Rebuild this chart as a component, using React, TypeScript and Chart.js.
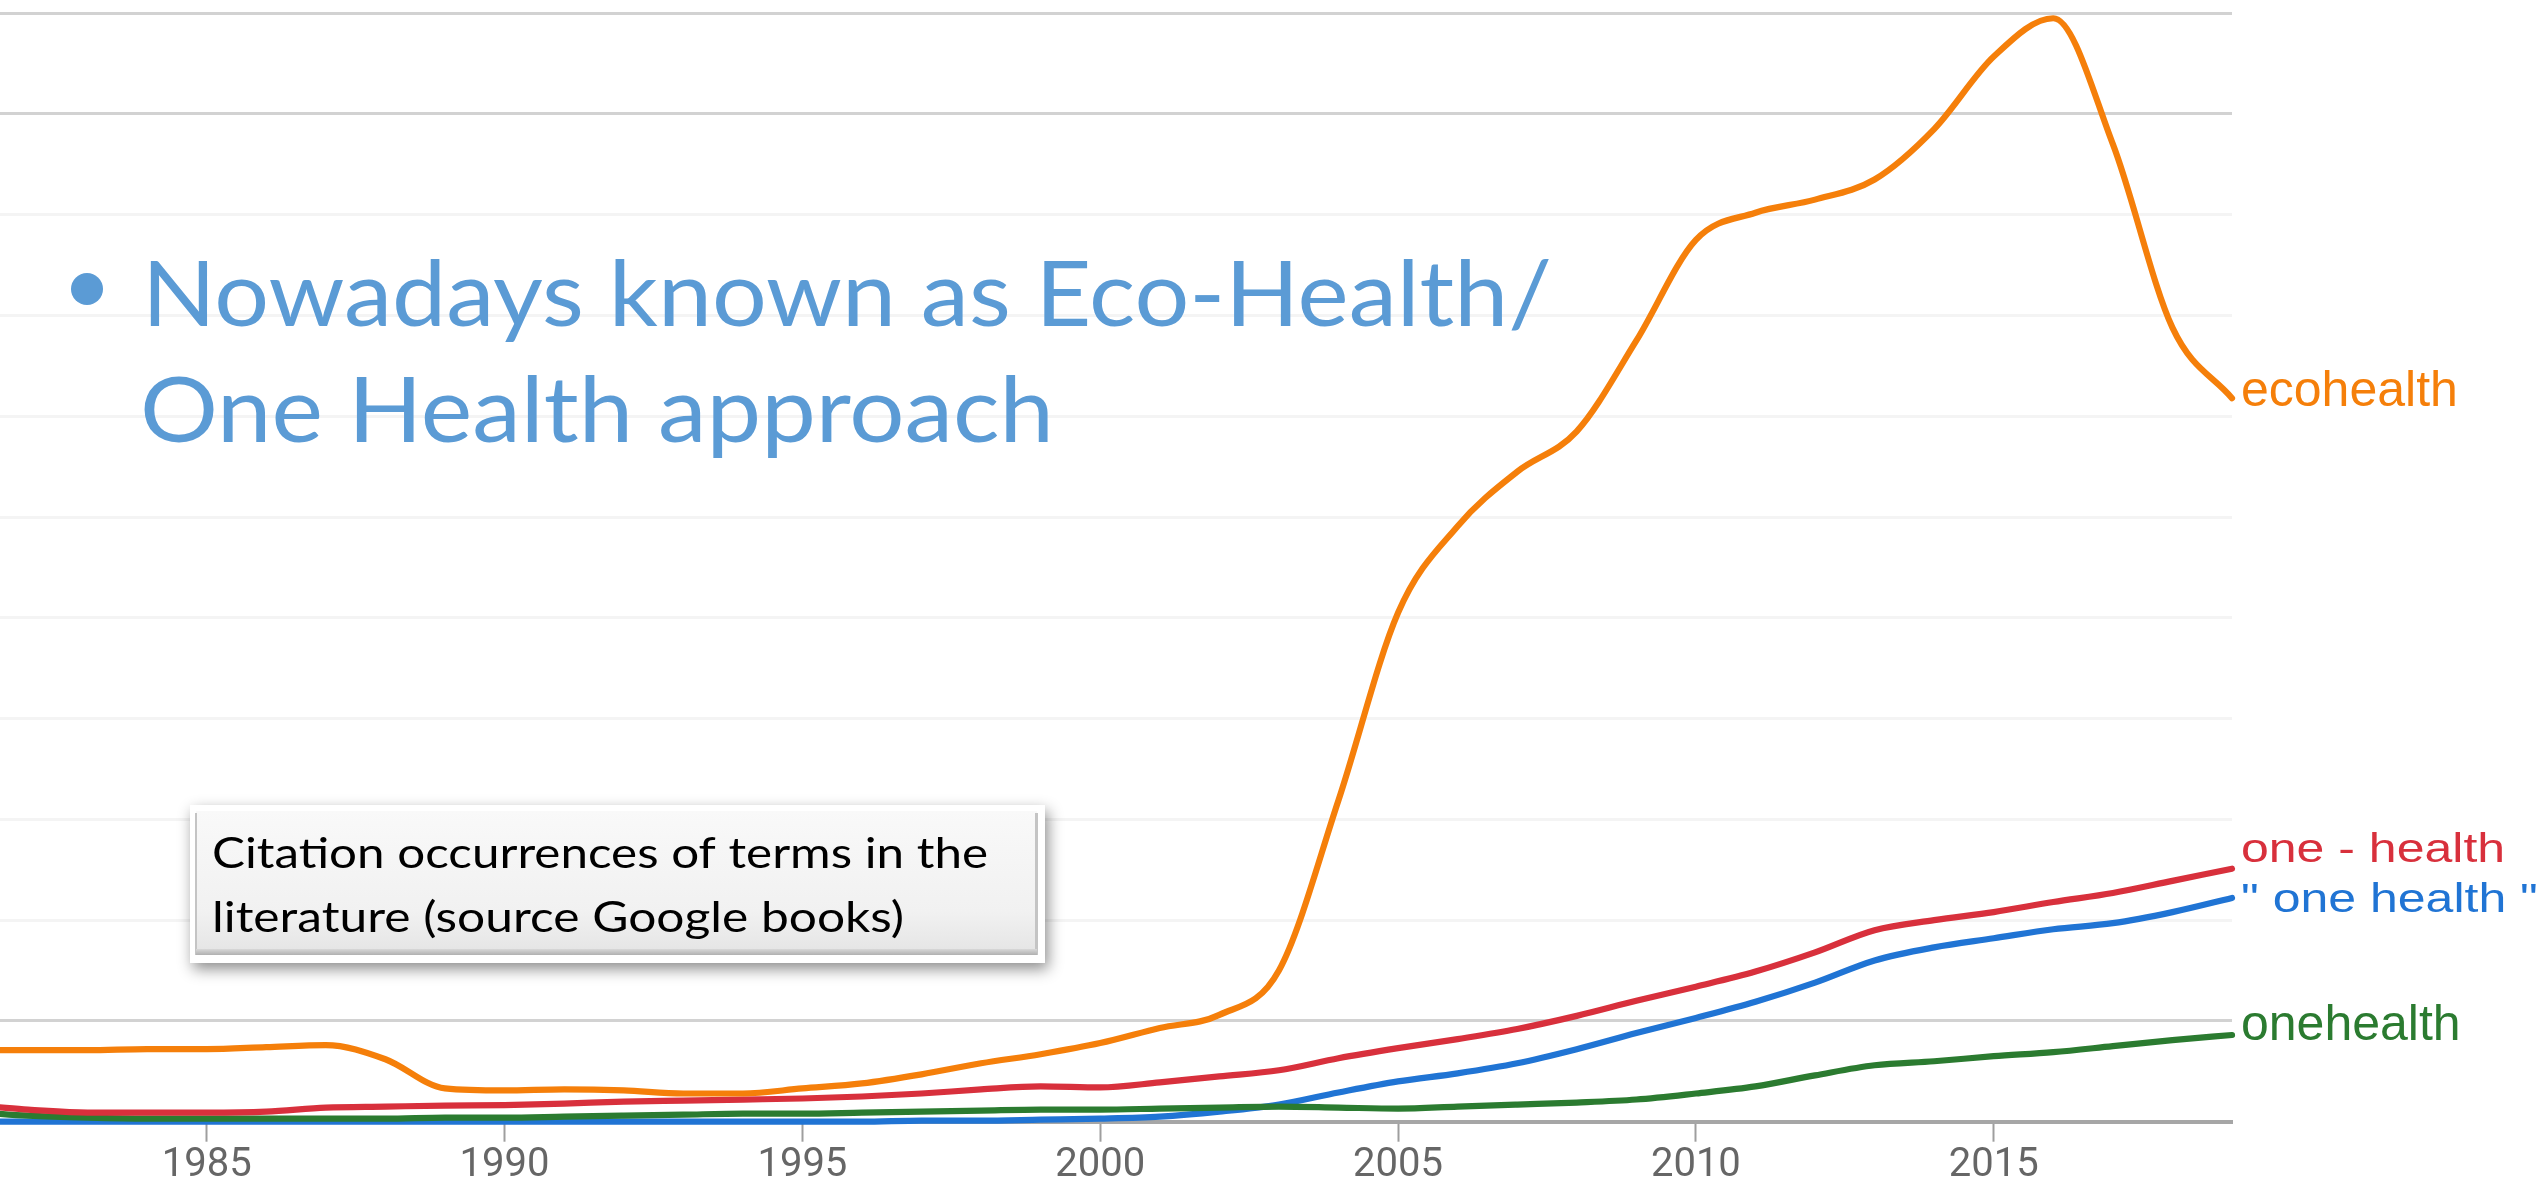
import React, { useEffect, useRef } from "react";
import { Chart, registerables } from "chart.js";

Chart.register(...registerables);

// Publication years (one point per year).
const years = [
  1980, 1981, 1982, 1983, 1984, 1985, 1986, 1987, 1988, 1989,
  1990, 1991, 1992, 1993, 1994, 1995, 1996, 1997, 1998, 1999,
  2000, 2001, 2002, 2003, 2004, 2005, 2006, 2007, 2008, 2009,
  2010, 2011, 2012, 2013, 2014, 2015, 2016, 2017, 2018, 2019,
];

// Relative frequency of each term (arbitrary units, one grid step = 1).
const ecohealth = [
  0.7, 0.71, 0.71, 0.71, 0.72, 0.72, 0.74, 0.76, 0.62, 0.33,
  0.31, 0.32, 0.31, 0.28, 0.28, 0.33, 0.38, 0.47, 0.58, 0.67,
  0.78, 0.93, 1.06, 1.5, 3.19, 5.05, 5.91, 6.45, 6.85, 7.75,
  8.75, 9.02, 9.15, 9.35, 9.85, 10.57, 10.95, 9.7, 7.88, 7.18,
];
const oneDashHealth = [
  0.16, 0.16, 0.12, 0.09, 0.09, 0.09, 0.1, 0.14, 0.15, 0.16,
  0.165, 0.18, 0.2, 0.21, 0.22, 0.23, 0.25, 0.28, 0.32, 0.35,
  0.34, 0.39, 0.45, 0.51, 0.63, 0.73, 0.82, 0.92, 1.05, 1.2,
  1.34, 1.49, 1.68, 1.9, 2.0, 2.08, 2.18, 2.27, 2.39, 2.51,
];
const quotedOneHealth = [
  0, 0, 0, 0, 0, 0, 0, 0, 0, 0,
  0, 0, 0, 0, 0, 0, 0, 0.01, 0.01, 0.02,
  0.03, 0.05, 0.1, 0.17, 0.29, 0.4, 0.48, 0.58, 0.72, 0.88,
  1.03, 1.19, 1.38, 1.6, 1.73, 1.82, 1.91, 1.97, 2.08, 2.22,
];
const onehealth = [
  0.12, 0.1, 0.06, 0.04, 0.03, 0.03, 0.03, 0.03, 0.03, 0.04,
  0.04, 0.05, 0.06, 0.07, 0.08, 0.08, 0.09, 0.1, 0.11, 0.12,
  0.12, 0.13, 0.14, 0.15, 0.14, 0.13, 0.15, 0.17, 0.19, 0.22,
  0.28, 0.35, 0.46, 0.56, 0.6, 0.65, 0.69, 0.75, 0.81, 0.86,
];

const seriesNames = ["ecohealth", "one - health", "\" one health \"", "onehealth"];
const xTickYears = [1985, 1990, 1995, 2000, 2005, 2010, 2015];
const yGridSteps = [0, 1, 2, 3, 4, 5, 6, 7, 8, 9, 10, 11];

const bulletLines = ["Nowadays known as Eco-Health/", "One Health approach"];
const noteLines = ["Citation occurrences of terms in the", "literature (source Google books)"];

const W = 2542;
const H = 1186;

const seriesStyles = [
  { color: "#f57f0a", order: 0, labelDy: 8, squeeze: 1 },
  { color: "#d8303c", order: 1, labelDy: -7, squeeze: 0.8 },
  { color: "#2074d4", order: 3, labelDy: 14, squeeze: 0.8 },
  { color: "#2b7b30", order: 2, labelDy: 5, squeeze: 1 },
];

function fitText(
  ctx: CanvasRenderingContext2D,
  text: string,
  x: number,
  baseline: number,
  width: number
) {
  const m = ctx.measureText(text).width;
  ctx.save();
  ctx.translate(x, baseline);
  ctx.scale(width / m, 1);
  ctx.fillText(text, 0, 0);
  ctx.restore();
}

// Labels drawn just right of each line's last point.
const endLabels = {
  id: "endLabels",
  afterDatasetsDraw(chart: any) {
    const ctx: CanvasRenderingContext2D = chart.ctx;
    ctx.save();
    ctx.font = '50px "Liberation Sans", Arial, sans-serif';
    ctx.textAlign = "left";
    ctx.textBaseline = "alphabetic";
    chart.data.datasets.forEach((ds: any, i: number) => {
      const meta = chart.getDatasetMeta(i);
      const pt = meta.data[meta.data.length - 1];
      const st = seriesStyles[i];
      ctx.fillStyle = st.color;
      ctx.save();
      ctx.translate(pt.x + 9, pt.y + st.labelDy);
      ctx.scale(1, st.squeeze);
      ctx.fillText(ds.label, 0, 0);
      ctx.restore();
    });
    ctx.restore();
  },
};

// Slide text laid over the chart: bullet point and caption box.
const slideText = {
  id: "slideText",
  afterDraw(chart: any) {
    const ctx: CanvasRenderingContext2D = chart.ctx;
    ctx.save();

    // bullet
    ctx.fillStyle = "#5b9bd5";
    ctx.beginPath();
    ctx.arc(87, 289, 16, 0, Math.PI * 2);
    ctx.fill();
    ctx.font = '92px Lato, "Open Sans", sans-serif';
    ctx.textBaseline = "alphabetic";
    fitText(ctx, bulletLines[0], 142, 326, 1410);
    fitText(ctx, bulletLines[1], 140, 442, 914);

    // caption box
    const bx = 190, by = 805, bw = 855, bh = 158;
    ctx.save();
    ctx.shadowColor = "rgba(0,0,0,0.45)";
    ctx.shadowBlur = 14;
    ctx.shadowOffsetX = 3;
    ctx.shadowOffsetY = 6;
    ctx.fillStyle = "#ffffff";
    ctx.fillRect(bx, by, bw, bh);
    ctx.restore();

    const g = ctx.createLinearGradient(0, by + 6, 0, by + bh - 8);
    g.addColorStop(0, "#f9f9f9");
    g.addColorStop(0.7, "#f1f1f1");
    g.addColorStop(1, "#e4e4e4");
    ctx.fillStyle = g;
    ctx.fillRect(bx + 6, by + 6, bw - 14, bh - 14);
    // bevel edges
    ctx.fillStyle = "#c4c4c4";
    ctx.fillRect(bx + 5, by + 8, 2, bh - 16);
    ctx.fillRect(bx + bw - 10, by + 8, 3, bh - 16);
    const gb = ctx.createLinearGradient(0, by + bh - 14, 0, by + bh - 7);
    gb.addColorStop(0, "#d8d8d8");
    gb.addColorStop(1, "#a9a9a9");
    ctx.fillStyle = gb;
    ctx.fillRect(bx + 6, by + bh - 14, bw - 14, 6);

    ctx.fillStyle = "#000000";
    ctx.font = '42px Lato, "Open Sans", sans-serif';
    fitText(ctx, noteLines[0], 212, 868, 776);
    fitText(ctx, noteLines[1], 212, 932, 692);

    ctx.restore();
  },
};

export default function App() {
  const canvasRef = useRef<HTMLCanvasElement | null>(null);

  useEffect(() => {
    document.body.style.margin = "0";
    document.body.style.overflow = "hidden";
    const canvas = canvasRef.current;
    if (!canvas) return;

    const series = [ecohealth, oneDashHealth, quotedOneHealth, onehealth];

    const chart = new Chart(canvas, {
      type: "line",
      data: {
        datasets: series.map((vals, i) => ({
          label: seriesNames[i],
          data: years.map((yr, j) => ({ x: yr, y: vals[j] })),
          borderColor: seriesStyles[i].color,
          backgroundColor: seriesStyles[i].color,
          borderWidth: 6.2,
          pointRadius: 0,
          pointHoverRadius: 0,
          cubicInterpolationMode: "monotone" as const,
          borderCapStyle: "round" as const,
          borderJoinStyle: "round" as const,
          fill: false,
          clip: false as any,
          order: seriesStyles[i].order,
        })),
      },
      options: {
        animation: false,
        responsive: false,
        devicePixelRatio: 1,
        events: [],
        layout: { padding: { left: 0, top: 13.2, right: 310, bottom: 0 } },
        plugins: {
          legend: { display: false },
          tooltip: { enabled: false },
          title: { display: false },
        },
        scales: {
          x: {
            type: "linear",
            min: 1981.53,
            max: 2019,
            afterBuildTicks: (scale: any) => {
              scale.ticks = xTickYears.map((value) => ({ value }));
            },
            afterFit: (scale: any) => {
              scale.height = 64.3;
            },
            ticks: {
              autoSkip: false,
              maxRotation: 0,
              padding: 0,
              color: "#666666",
              font: { family: "Roboto", size: 40 },
              callback: (v: any) => String(v),
            },
            grid: {
              drawOnChartArea: false,
              drawTicks: true,
              tickLength: 20,
              tickColor: "#9e9e9e",
              tickWidth: 2,
            },
            border: { display: true, color: "#a6a6a6", width: 4 },
          },
          y: {
            type: "linear",
            min: 0,
            max: 11,
            afterBuildTicks: (scale: any) => {
              scale.ticks = yGridSteps.map((value) => ({ value }));
            },
            afterFit: (scale: any) => {
              scale.width = 0;
            },
            ticks: { display: false },
            grid: {
              drawTicks: false,
              lineWidth: 3,
              color: (c: any) => {
                const v = c.tick ? c.tick.value : -1;
                return v === 1 || v === 10 || v === 11 ? "#d2d2d2" : "#f4f4f4";
              },
            },
            border: { display: false },
          },
        },
      },
      plugins: [endLabels, slideText],
    });

    return () => chart.destroy();
  }, []);

  return (
    <div style={{ position: "absolute", left: 0, top: 0, width: W, height: H, background: "#ffffff" }}>
      <canvas ref={canvasRef} width={W} height={H} style={{ display: "block", width: W, height: H }} />
    </div>
  );
}
